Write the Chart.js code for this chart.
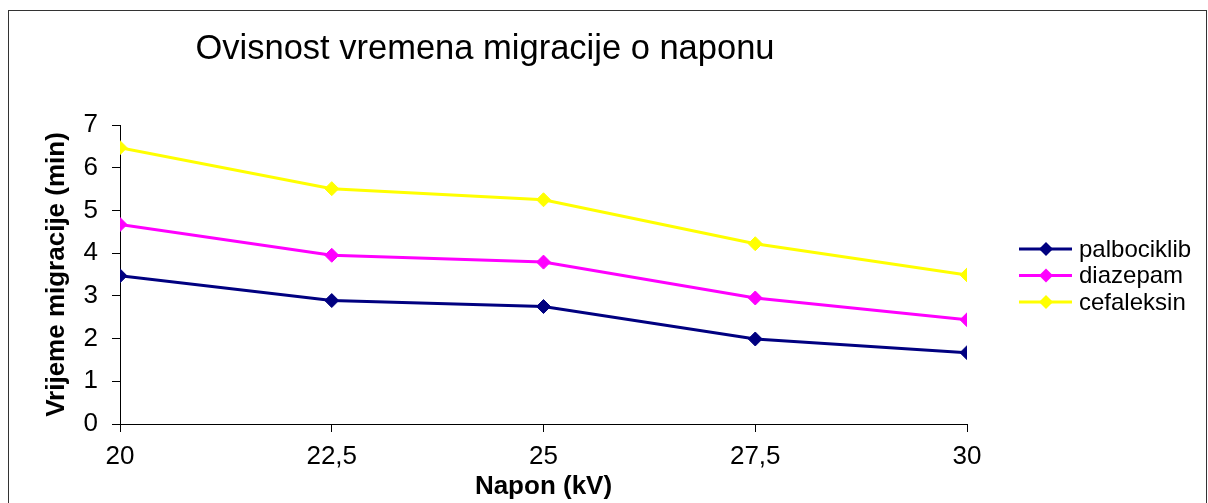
<!DOCTYPE html>
<html>
<head>
<meta charset="utf-8">
<script src="https://cdn.jsdelivr.net/npm/chart.js@4.4.0/dist/chart.umd.min.js"></script>
<style>
    body { margin: 0; background: #ffffff; }
    #wrap { position: relative; width: 1208px; height: 503px; }
</style>
</head>
<body>
<div id="wrap"><canvas id="myChart"></canvas></div>
<script>
// Chart data
const chartTitle = 'Ovisnost vremena migracije o naponu';
const xTitle = 'Napon (kV)';
const yTitle = 'Vrijeme migracije (min)';
const napon = [20, 22.5, 25, 27.5, 30];
const xTickLabels = ['20', '22,5', '25', '27,5', '30'];
const seriesNames = ['palbociklib', 'diazepam', 'cefaleksin'];
const palbociklib = [3.47, 2.89, 2.75, 1.99, 1.67];
const diazepam = [4.67, 3.95, 3.79, 2.95, 2.44];
const cefaleksin = [6.47, 5.51, 5.25, 4.22, 3.49];
const seriesColors = ['#000080', '#FF00FF', '#FFFF00'];

const FONT = "'Liberation Sans', Arial, sans-serif";

const toPoints = (values) => values.map((v, i) => ({ x: napon[i], y: v }));

const datasets = [palbociklib, diazepam, cefaleksin].map((values, i) => ({
    label: seriesNames[i],
    data: toPoints(values),
    borderColor: seriesColors[i],
    backgroundColor: seriesColors[i],
    borderWidth: 3,
    pointStyle: 'rectRot',
    pointRadius: 7,
    pointBorderWidth: 1,
    tension: 0
}));

// Frame, title and legend (Excel style)
const excelDecor = {
    id: 'excelDecor',
    afterDraw: (chart) => {
        const {ctx} = chart;
        ctx.save();

        // outer frame
        ctx.strokeStyle = '#333333';
        ctx.lineWidth = 1;
        ctx.strokeRect(8.5, 10.5, 1198, 600);

        // title
        ctx.fillStyle = '#000000';
        ctx.font = '34.5px ' + FONT;
        ctx.textAlign = 'center';
        ctx.textBaseline = 'middle';
        ctx.fillText(chartTitle, 485, 49);

        // legend
        ctx.font = '24px ' + FONT;
        ctx.textAlign = 'left';
        chart.data.datasets.forEach((ds, i) => {
            const y = 249 + i * 26.5;
            ctx.strokeStyle = ds.borderColor;
            ctx.lineWidth = 3;
            ctx.beginPath();
            ctx.moveTo(1019, y);
            ctx.lineTo(1072, y);
            ctx.stroke();
            ctx.fillStyle = ds.backgroundColor;
            ctx.beginPath();
            ctx.moveTo(1046 - 7, y);
            ctx.lineTo(1046, y - 7);
            ctx.lineTo(1046 + 7, y);
            ctx.lineTo(1046, y + 7);
            ctx.closePath();
            ctx.fill();
            ctx.fillStyle = '#000000';
            ctx.fillText(ds.label, 1079, y + 1);
        });
        ctx.restore();
    }
};

var ctx = document.getElementById('myChart').getContext('2d');
var myChart = new Chart(ctx, {
    type: 'line',
    data: { datasets: datasets },
    options: {
        responsive: true,
        maintainAspectRatio: false,
        animation: false,
        layout: {
            padding: { top: 125, right: 241, bottom: 0, left: 0 }
        },
        plugins: {
            legend: { display: false },
            title: { display: false },
            tooltip: { enabled: false }
        },
        scales: {
            x: {
                type: 'linear',
                min: 20,
                max: 30,
                afterFit: (scale) => { scale.height = 79; },
                afterBuildTicks: (scale) => {
                    scale.ticks = napon.map(v => ({ value: v }));
                },
                ticks: {
                    color: '#000000',
                    padding: 9,
                    maxRotation: 0,
                    font: { family: FONT, size: 26 },
                    callback: (value) => xTickLabels[napon.indexOf(value)]
                },
                grid: {
                    drawOnChartArea: false,
                    drawTicks: true,
                    tickLength: 8,
                    color: '#000000'
                },
                border: { color: '#000000', width: 1 },
                title: {
                    display: true,
                    text: xTitle,
                    color: '#000000',
                    font: { family: FONT, size: 26, weight: 'bold' },
                    padding: { top: 0, bottom: 1 }
                }
            },
            y: {
                min: 0,
                max: 7,
                afterFit: (scale) => { scale.width = 120; },
                ticks: {
                    stepSize: 1,
                    color: '#000000',
                    padding: 14,
                    font: { family: FONT, size: 26 }
                },
                grid: {
                    drawOnChartArea: false,
                    drawTicks: true,
                    tickLength: 8,
                    color: '#000000'
                },
                border: { color: '#000000', width: 1 },
                title: {
                    display: true,
                    text: yTitle,
                    color: '#000000',
                    font: { family: FONT, size: 26, weight: 'bold' },
                    padding: { top: 41, bottom: 0 }
                }
            }
        }
    },
    plugins: [excelDecor]
});
</script>
</body>
</html>
